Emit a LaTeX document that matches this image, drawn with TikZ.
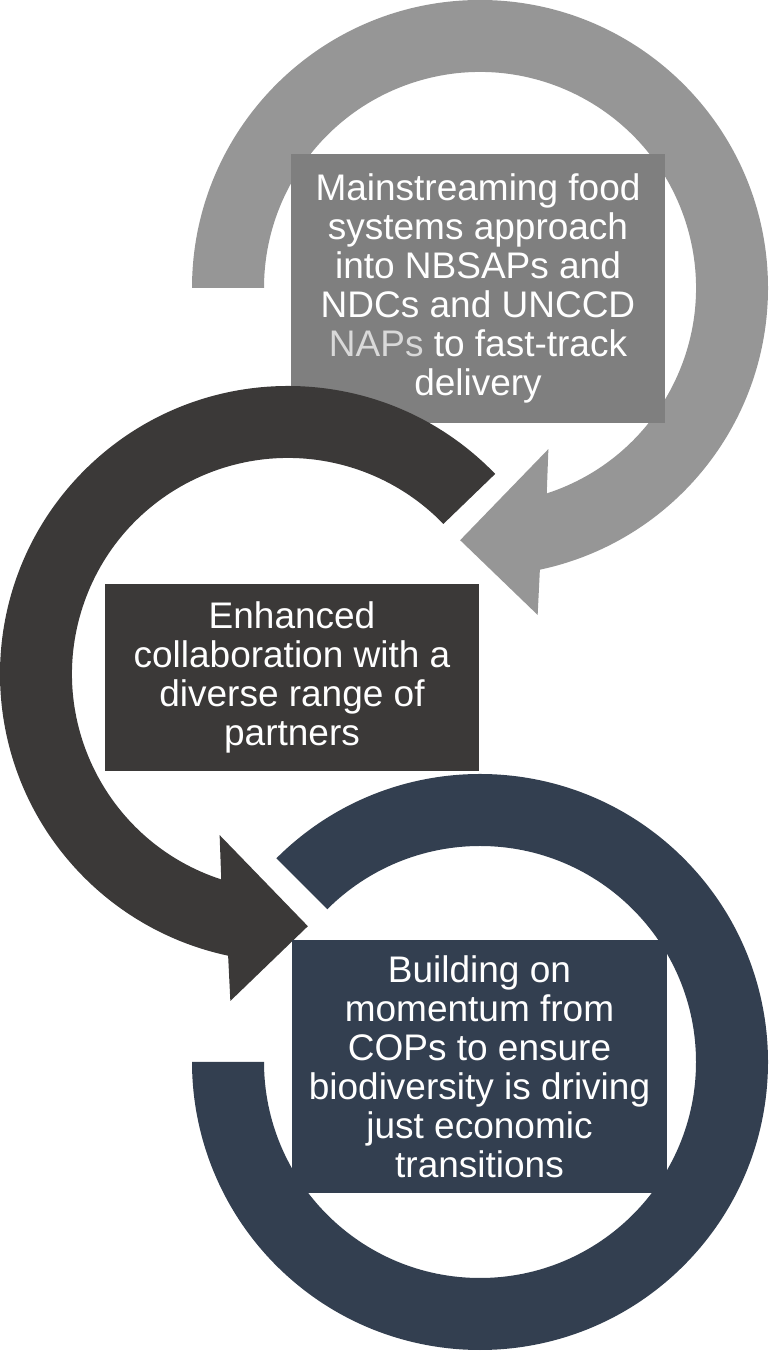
\documentclass[tikz,border=0pt]{standalone}
\usepackage{fontspec}
\setmainfont{Liberation Sans}
\definecolor{ringgray}{HTML}{969696}
\definecolor{boxgray}{HTML}{7F7F7F}
\definecolor{ringdark}{HTML}{3B3938}
\definecolor{ringnavy}{HTML}{333F50}
\definecolor{naplight}{HTML}{D9D9D9}
\tikzset{
    x = 1pt, y = 1pt,
    stagebox/.style = {rectangle, inner sep = 0pt, text = white, align = center,
        font = \fontsize{37}{39}\selectfont}
}

\begin{document}
\begin{tikzpicture}
    \useasboundingbox (0, 0) rectangle (768, 1351);

    \begin{scope}[shift = {(480, 1063)}]
        \fill[ringgray] (180:288) arc[start angle = 180, end angle = -78, radius = 288pt]
            -- (-80:332) -- (-94.5:253) -- (-67:175) -- (-72:216)
            arc[start angle = -72, end angle = 180, radius = 216pt] -- cycle;
    \end{scope}
    \node[stagebox, fill = boxgray, minimum width = 374, minimum height = 269] (food) at (478, 1062.5)
        {Mainstreaming food\\systems approach\\into NBSAPs and\\NDCs and UNCCD\\{\color{naplight}NAPs} to fast-track\\delivery};

    \begin{scope}[shift = {(288, 677)}]
        \fill[ringdark] (44:288) arc[start angle = 44, end angle = 258, radius = 288pt]
            -- (260:332) -- (274.5:253) -- (247:175) -- (252:216)
            arc[start angle = 252, end angle = 44, radius = 216pt] -- cycle;
    \end{scope}
    \node[stagebox, fill = ringdark, minimum width = 374, minimum height = 187] (partners) at (292, 673.5)
        {Enhanced\\collaboration with a\\diverse range of\\partners};

    \begin{scope}[shift = {(480, 289)}]
        \fill[ringnavy] (135:288) arc[start angle = 135, end angle = -180, radius = 288pt]
            -- (180:216) arc[start angle = -180, end angle = 135, radius = 216pt] -- cycle;
    \end{scope}
    \node[stagebox, fill = ringnavy, minimum width = 375, minimum height = 253] (cops) at (479.5, 284.5)
        {Building on\\momentum from\\COPs to ensure\\biodiversity is driving\\just economic\\transitions};
\end{tikzpicture}
\end{document}
